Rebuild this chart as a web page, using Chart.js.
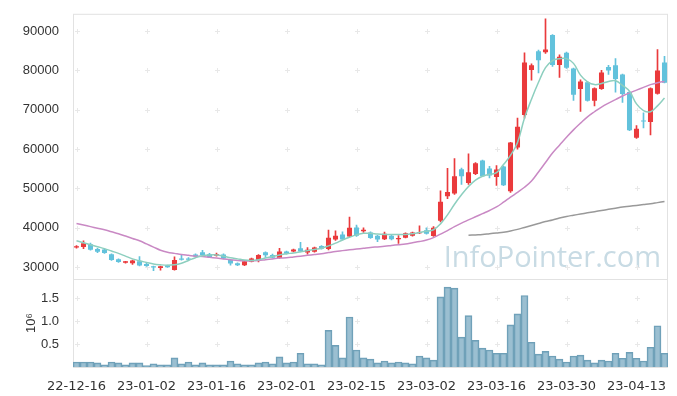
<!DOCTYPE html>
<html>
<head>
<meta charset="utf-8">
<script src="https://cdn.jsdelivr.net/npm/chart.js@4/dist/chart.umd.min.js"></script>
<style>
  html, body { margin: 0; padding: 0; background: #fff; }
  #wrap { width: 677px; height: 396px; }
</style>
</head>
<body>
<div id="wrap"><canvas id="chart"></canvas></div>
<script>
// trading days
const dates = [
  "22-12-16","22-12-19","22-12-20","22-12-21","22-12-22","22-12-23","22-12-26","22-12-27","22-12-28","22-12-29",
  "23-01-02","23-01-03","23-01-04","23-01-05","23-01-06","23-01-09","23-01-10","23-01-11","23-01-12","23-01-13",
  "23-01-16","23-01-17","23-01-18","23-01-19","23-01-20","23-01-25","23-01-26","23-01-27","23-01-30","23-01-31",
  "23-02-01","23-02-02","23-02-03","23-02-06","23-02-07","23-02-08","23-02-09","23-02-10","23-02-13","23-02-14",
  "23-02-15","23-02-16","23-02-17","23-02-20","23-02-21","23-02-22","23-02-23","23-02-24","23-02-27","23-02-28",
  "23-03-02","23-03-03","23-03-06","23-03-07","23-03-08","23-03-09","23-03-10","23-03-13","23-03-14","23-03-15",
  "23-03-16","23-03-17","23-03-20","23-03-21","23-03-22","23-03-23","23-03-24","23-03-27","23-03-28","23-03-29",
  "23-03-30","23-03-31","23-04-03","23-04-04","23-04-05","23-04-06","23-04-07","23-04-10","23-04-11","23-04-12",
  "23-04-13","23-04-14","23-04-17","23-04-18","23-04-19"
];

const open = [
  35000,35100,35800,34600,34500,33300,32000,31100,31000,31500,
  30800,30200,29800,30400,29300,32200,32200,33200,33800,33300,
  32900,33200,31900,31000,30500,31400,31800,33800,33100,32300,
  34000,34000,34800,33700,33900,35400,34600,37000,38300,37800,
  40100,39100,38800,38000,37100,38000,37100,37500,38000,38600,
  39400,37900,41800,48000,48700,54900,51400,53700,57100,55100,
  52900,55600,49300,60400,68700,80100,84900,84600,89000,81400,
  84500,80500,75300,77000,72300,75300,80900,81300,79000,74500,
  62900,67300,66900,74100,82000
];
const high = [
  35500,36700,36100,34800,34600,33400,32100,31500,31800,32700,
  31200,30300,30300,30500,32600,33100,32400,33400,34300,33500,
  33600,33400,32000,31100,31500,32300,33200,33900,33300,34800,
  34100,34600,36300,35000,35100,35500,39400,39200,39000,42700,
  40700,40000,39000,38100,38900,38200,38000,38700,38900,40500,
  40000,40300,49400,55100,57600,55200,58800,56600,57200,55600,
  55800,55700,61700,67900,84500,81700,85200,93100,89100,84000,
  84700,80600,77600,77200,75600,80000,81300,83000,79100,74600,
  66000,69200,75600,85300,83600
];
const low = [
  34800,34700,34300,33700,33500,31700,31200,31000,30700,30300,
  30200,29100,29200,29900,29200,31800,31800,32600,32900,32400,
  32800,32100,30500,30400,30400,31300,31300,32500,32300,32200,
  33300,33900,33900,33300,33800,34600,34400,36800,36900,37700,
  37800,38800,37300,36500,37000,36900,36000,37400,37900,38500,
  38400,37800,41500,47400,48500,51000,51000,53500,53000,52700,
  50800,50700,49000,60000,67900,77500,79400,84300,81000,78200,
  80500,72400,69600,72200,71000,75200,79000,74500,71900,64700,
  62700,65400,63600,74000,76800
];
const close = [
  35300,36100,34400,33900,33600,31800,31300,31500,31700,30400,
  30300,29900,30200,30000,31800,31900,31900,32700,33000,32500,
  33300,32200,30900,30500,31500,32200,33100,33000,32400,34000,
  33400,34500,34000,34400,35000,34700,37500,38000,37000,40000,
  38000,39500,37400,37000,38500,37100,37400,38600,38800,38900,
  38500,40000,46600,49100,53100,53100,54100,56400,53100,53300,
  54800,50800,61700,65700,82000,81300,82600,85300,81400,83500,
  80700,73800,77200,72300,75500,79500,80000,77800,74000,64800,
  65200,67000,75500,80000,76900
];

// volume, millions of shares
const volume = [
  0.11,0.11,0.11,0.09,0.05,0.11,0.09,0.05,0.09,0.09,
  0.03,0.07,0.05,0.05,0.20,0.07,0.11,0.05,0.09,0.05,
  0.05,0.05,0.13,0.07,0.05,0.05,0.09,0.11,0.07,0.22,
  0.09,0.11,0.30,0.07,0.07,0.05,0.80,0.47,0.20,1.09,
  0.37,0.20,0.17,0.09,0.13,0.09,0.11,0.09,0.07,0.24,
  0.20,0.15,1.53,1.74,1.72,0.65,1.12,0.58,0.41,0.37,
  0.30,0.30,0.92,1.16,1.56,0.54,0.28,0.34,0.24,0.17,
  0.11,0.24,0.26,0.15,0.09,0.15,0.13,0.30,0.19,0.32,
  0.19,0.13,0.43,0.90,0.30
];

// moving averages as drawn
const maShort = [
  36700,36200,35700,35200,34700,34100,33500,32800,32100,31600,
  31200,30800,30600,30500,30600,31000,31700,32400,32900,33100,
  33100,32800,32400,32100,31800,31700,31900,32300,32700,33100,
  33400,33600,33900,34200,34500,34800,35400,36100,36900,37600,
  38200,38600,38600,38400,38300,38300,38300,38300,38500,38800,
  39100,39500,41000,43300,46000,48400,50500,52100,53100,53600,
  54000,56100,58400,61700,67900,72700,77000,80700,82500,83000,
  83000,81800,78800,77100,76400,76700,77200,77400,76200,74700,
  71500,69800,69500,71000,73000
];
const maMid = [
  41100,40700,40300,39900,39500,39000,38500,37900,37300,36700,
  35900,35100,34300,33800,33500,33200,33000,32800,32700,32500,
  32300,32100,31900,31700,31600,31600,31700,31900,32100,32300,
  32400,32600,32800,33000,33200,33400,33700,34000,34200,34400,
  34600,34800,35000,35150,35300,35500,35700,35900,36200,36500,
  36900,37500,38400,39300,40300,41200,42000,42800,43600,44400,
  45300,46500,47800,49000,50300,51900,54200,56600,59000,61000,
  63000,64900,66600,68200,69500,70700,71700,72600,73500,74300,
  75000,75700,76400,76900,77200
];
const maLong = [
  null,null,null,null,null,null,null,null,null,null,
  null,null,null,null,null,null,null,null,null,null,
  null,null,null,null,null,null,null,null,null,null,
  null,null,null,null,null,null,null,null,null,null,
  null,null,null,null,null,null,null,null,null,null,
  null,null,null,null,null,null,38100,38200,38300,38500,
  38700,38900,39200,39600,40100,40600,41100,41600,42000,42500,
  42900,43200,43500,43800,44100,44400,44700,45000,45300,45500,
  45700,45900,46100,46400,46700
];

const priceTicks = [30000, 40000, 50000, 60000, 70000, 80000, 90000];
const volumeTicks = [0.5, 1.0, 1.5];

const UP = "#ea3a3c";
const DOWN = "#62c2dc";
const candleColor = open.map((o, i) => (close[i] >= o ? UP : DOWN));

// light "+" marks at grid crossings, panel frame, watermark
const decor = {
  id: "decor",
  beforeDatasetsDraw(chart) {
    const { ctx, chartArea: a, scales } = chart;
    ctx.save();
    ctx.font = '29px "Open Sans"';
    ctx.fillStyle = "#c8dbe4";
    ctx.textAlign = "right";
    ctx.textBaseline = "alphabetic";
    ctx.fillText("InfoPointer.com", 661, 267);

    ctx.strokeStyle = "#e8e8e8";
    ctx.lineWidth = 1;
    const xs = [];
    for (let i = 0; i < dates.length; i += 10) xs.push(Math.round(scales.x.getPixelForValue(i)) + 0.5);
    const ys = priceTicks.map(v => scales.y.getPixelForValue(v))
      .concat(volumeTicks.map(v => scales.v.getPixelForValue(v)));
    ctx.beginPath();
    xs.forEach(x => ys.forEach(y => {
      const yy = Math.round(y) + 0.5;
      ctx.moveTo(x - 2.5, yy); ctx.lineTo(x + 2.5, yy);
      ctx.moveTo(x, yy - 2.5); ctx.lineTo(x, yy + 2.5);
    }));
    ctx.stroke();

    ctx.strokeStyle = "#e2e2e2";
    ctx.strokeRect(a.left + 0.5, a.top + 0.5, a.right - a.left - 1, a.bottom - a.top);
    const sep = Math.round(scales.y.bottom) + 0.5;
    ctx.beginPath();
    ctx.moveTo(a.left, sep); ctx.lineTo(a.right, sep);
    ctx.stroke();
    ctx.restore();
  }
};

const tickFont = { family: "Liberation Sans", size: 13 };

new Chart(document.getElementById("chart"), {
  type: "bar",
  data: {
    labels: dates,
    datasets: [
      {
        type: "line", data: maShort, yAxisID: "y", order: 0,
        borderColor: "#8dcfbf", borderWidth: 1.5, pointRadius: 0, tension: 0.4, fill: false
      },
      {
        type: "line", data: maMid, yAxisID: "y", order: 0,
        borderColor: "#c989c4", borderWidth: 1.5, pointRadius: 0, tension: 0.4, fill: false
      },
      {
        type: "line", data: maLong, yAxisID: "y", order: 0,
        borderColor: "#999999", borderWidth: 1.5, pointRadius: 0, tension: 0.4, fill: false
      },
      {
        data: open.map((o, i) => [o, close[i]]), yAxisID: "y", order: 1,
        backgroundColor: candleColor, barPercentage: 0.72, categoryPercentage: 1,
        grouped: false, minBarLength: 1
      },
      {
        data: low.map((l, i) => [l, high[i]]), yAxisID: "y", order: 2,
        backgroundColor: candleColor, barThickness: 1, grouped: false
      },
      {
        data: volume, yAxisID: "v", order: 3,
        backgroundColor: "rgba(122,170,194,0.75)", borderColor: "#6e9fb7", borderWidth: 1,
        barPercentage: 1, categoryPercentage: 1, grouped: false
      }
    ]
  },
  options: {
    responsive: true,
    maintainAspectRatio: false,
    animation: false,
    devicePixelRatio: 1,
    layout: { padding: { top: 10, right: 9, left: 0, bottom: 0 } },
    plugins: { legend: { display: false }, tooltip: { enabled: false } },
    scales: {
      x: {
        type: "category",
        offset: true,
        grid: { display: false },
        border: { display: false },
        ticks: {
          autoSkip: false, maxRotation: 0, padding: 4, color: "#333",
          font: { family: "DejaVu Sans", size: 13 },
          callback: (v, i) => (i % 10 === 0 ? dates[i] : null)
        },
        afterFit: s => { s.height = 29; }
      },
      y: {
        stack: "panels", stackWeight: 268, position: "left", weight: 1,
        min: 27000, max: 94400,
        grid: { display: false }, border: { display: false },
        afterBuildTicks: s => { s.ticks = priceTicks.map(v => ({ value: v })); },
        ticks: { padding: 6, color: "#333", font: tickFont, callback: v => String(v) },
        afterFit: s => { s.width = 73; }
      },
      v: {
        stack: "panels", stackWeight: 89, position: "left", weight: 0,
        min: 0, max: 1.92,
        grid: { display: false }, border: { display: false },
        afterBuildTicks: s => { s.ticks = volumeTicks.map(v => ({ value: v })); },
        ticks: { padding: 6, color: "#333", font: tickFont, callback: v => v.toFixed(1) },
        title: {
          display: true, text: "10⁶", color: "#333",
          font: { family: "Liberation Sans", size: 13 }, padding: { top: 24, bottom: 0 }
        },
        afterFit: s => { s.width = 73; }
      }
    }
  },
  plugins: [decor]
});
</script>
</body>
</html>
